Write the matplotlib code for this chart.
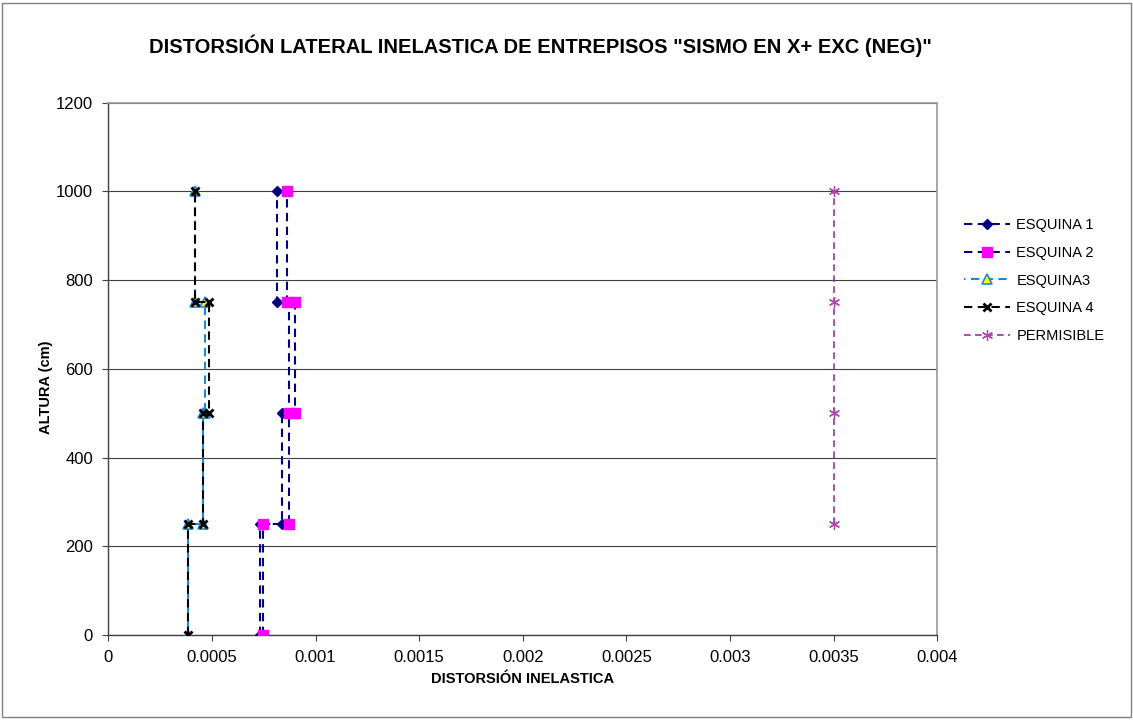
import matplotlib
matplotlib.use("Agg")
import matplotlib.pyplot as plt
from matplotlib.patches import Rectangle

plt.rcParams['font.family'] = ['Liberation Sans', 'DejaVu Sans']

# Storey heights (cm) and inelastic drift per storey for each corner
alturas = [0, 250, 500, 750, 1000]
esquina1 = [0.00073, 0.000838, 0.000872, 0.000814]
esquina2 = [0.000748, 0.000872, 0.0009, 0.000862]
esquina3 = [0.000383, 0.000457, 0.000467, 0.000418]
esquina4 = [0.000385, 0.000457, 0.000486, 0.000418]
permisible_x = [0.0035, 0.0035, 0.0035, 0.0035]
permisible_y = [250, 500, 750, 1000]

x_ticks = [0, 0.0005, 0.001, 0.0015, 0.002, 0.0025, 0.003, 0.0035, 0.004]
x_tick_labels = ['0', '0.0005', '0.001', '0.0015', '0.002', '0.0025', '0.003', '0.0035', '0.004']
y_ticks = [0, 200, 400, 600, 800, 1000, 1200]


def escalones(drifts, h):
    """Each storey drift held constant from floor to floor."""
    xs, ys = [], []
    for i, d in enumerate(drifts):
        xs += [d, d]
        ys += [h[i], h[i + 1]]
    return xs, ys


fig = plt.figure(figsize=(11.33, 7.2), dpi=100)
fig.patches.append(Rectangle((0.002, 0.004), 0.996, 0.992, transform=fig.transFigure,
                             fill=False, edgecolor='#808080', linewidth=1.0))
ax = fig.add_axes([108.3 / 1133, 1 - 635 / 720, (937.3 - 108.3) / 1133, (635 - 102.7) / 720])

series = [
    ('ESQUINA 1', esquina1, (0, (4, 2.6)),
     dict(color='#000080', marker='D', markersize=5,
          markerfacecolor='#000080', markeredgecolor='#000080')),
    ('ESQUINA 2', esquina2, (0, (4, 2.6)),
     dict(color='#000080', marker='s', markersize=6.5,
          markerfacecolor='#ff00ff', markeredgecolor='#ff00ff')),
    ('ESQUINA3', esquina3, (3.3, (4, 2.6)),
     dict(color='#1a8ad8', marker='^', markersize=7,
          markerfacecolor='#ffff00', markeredgecolor='#1a8ad8', markeredgewidth=1.2)),
    ('ESQUINA 4', esquina4, (0, (4, 2.6)),
     dict(color='#000000', marker='x', markersize=6,
          markeredgewidth=2.0, markeredgecolor='#000000')),
]
for label, vals, dash, style in series:
    xs, ys = escalones(vals, alturas)
    ax.plot(xs, ys, linestyle=dash, linewidth=1.5, label=label, zorder=3, **style)

ax.plot(permisible_x, permisible_y, linestyle=(0, (4, 2.6)), linewidth=1.2, color='#993399',
        marker=(6, 2, 0), markersize=8, markeredgewidth=0.9, markeredgecolor='#b040b0',
        label='PERMISIBLE', zorder=3)

ax.set_xlim(0, 0.004)
ax.set_ylim(0, 1200)
ax.set_xticks(x_ticks)
ax.set_xticklabels(x_tick_labels)
ax.set_yticks(y_ticks)
ax.yaxis.grid(True, color='#404040', linewidth=0.8)
ax.set_axisbelow(True)
ax.tick_params(axis='both', direction='out', length=4, width=0.8, labelsize=12,
               color='#404040')
ax.tick_params(axis='x', pad=7)
ax.tick_params(axis='y', pad=7)
for side in ('top', 'right'):
    ax.spines[side].set_color('#9a9a9a')
    ax.spines[side].set_linewidth(1.2)
for side in ('left', 'bottom'):
    ax.spines[side].set_color('#404040')
    ax.spines[side].set_linewidth(1.0)

ax.set_xlabel('DISTORSIÓN INELASTICA', fontsize=10.5, fontweight='bold', labelpad=5)
ax.set_ylabel('ALTURA (cm)', fontsize=10.5, fontweight='bold')
ax.yaxis.set_label_coords(-0.067, 0.466)

fig.text(540 / 1133, 1 - 46 / 720,
         'DISTORSIÓN LATERAL INELASTICA DE ENTREPISOS "SISMO EN X+ EXC (NEG)"',
         ha='center', va='center', fontsize=14.5, fontweight='bold')

ax.legend(loc='upper left', bbox_to_anchor=(958 / 1133, 1 - 212 / 720),
          bbox_transform=fig.transFigure, frameon=False, fontsize=10.5,
          handlelength=3.2, handletextpad=0.4, labelspacing=0.95, borderaxespad=0)

fig.savefig('out.png', dpi=100)
